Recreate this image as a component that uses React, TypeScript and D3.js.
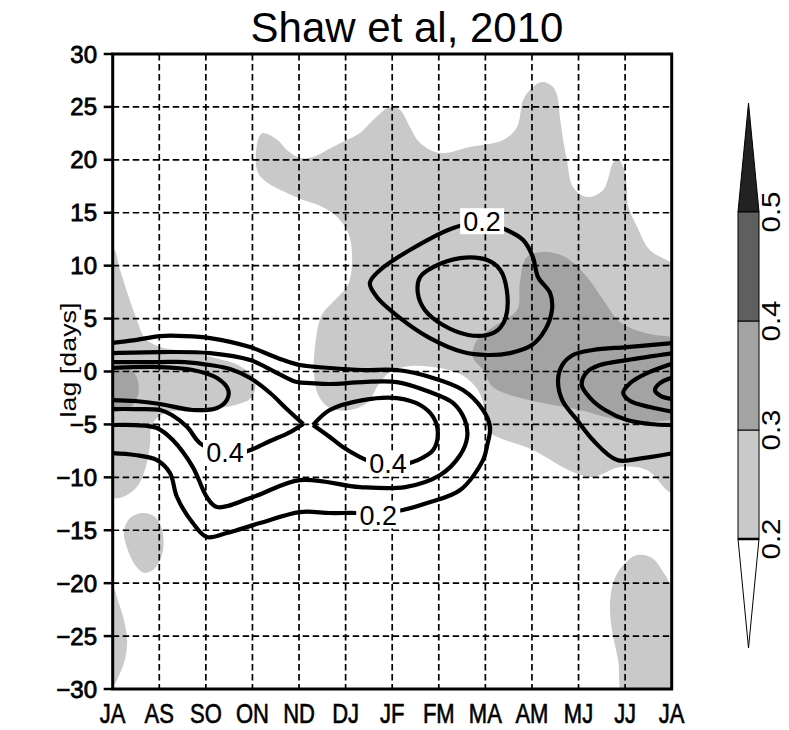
import React from "react";
import * as d3 from "d3";

const W = 789;
const H = 730;

// ---- axis / tick data ----
const monthLabels = ["JA", "AS", "SO", "ON", "ND", "DJ", "JF", "FM", "MA", "AM", "MJ", "JJ", "JA"];
const lagTicks = [30, 25, 20, 15, 10, 5, 0, -5, -10, -15, -20, -25, -30];
const titleText = "Shaw et al, 2010";
const yAxisTitle = "lag [days]";

// ---- colour bar ----
const cbLevels = [0.2, 0.3, 0.4, 0.5];
const cbLabels = ["0.2", "0.3", "0.4", "0.5"];
const cbColors = ["#c9c9c9", "#a3a3a3", "#5f5f5f"];
const cbTopColor = "#222222";

// ---- shaded regions, [month index, lag days] ----
const shadeLightMain: number[][] = [
  [3.2, 22.5], [3.53, 21.9], [3.74, 20.93], [4.02, 20.17], [4.3, 20.27], [4.6, 20.93], [4.94, 21.68],
  [5.31, 22.53], [5.59, 23.76], [5.95, 24.99], [6.17, 24.71], [6.38, 23.1], [6.6, 21.59], [7.03, 20.64],
  [7.67, 21.21], [8.38, 21.87], [8.68, 23.1], [8.81, 25.65], [9.02, 26.88], [9.22, 27.35], [9.43, 26.97],
  [9.54, 26.12], [9.6, 24.04], [9.67, 21.87], [9.75, 19.98], [9.88, 17.43], [10.18, 16.49], [10.53, 17.15],
  [10.74, 19.7], [10.85, 20.08], [10.96, 19.32], [11.04, 17.43], [11.06, 15.73], [11.26, 13.65],
  [11.53, 11.48], [12.0, 10.25], [12.3, 9.0], [12.3, -11.0], [12.0, -11.48], [11.47, -9.31], [10.89, -9.03],
  [10.31, -9.97], [9.88, -9.5], [9.02, -7.42], [8.04, -5.53], [7.99, -3.64], [7.84, -1.75], [7.5, -0.33],
  [7.03, 0.33], [6.38, 0.52], [5.95, -0.05], [5.7, -1.28], [5.48, -2.88], [5.09, -3.64], [4.66, -3.45],
  [4.41, -2.22], [4.32, 0.14], [4.36, 2.97], [4.49, 5.34], [4.77, 6.75], [5.05, 8.17], [5.14, 10.53],
  [5.05, 13.18], [4.77, 14.78], [4.41, 15.73], [4.09, 16.2], [3.7, 16.96], [3.33, 17.81], [3.12, 18.75],
  [3.08, 20.93],
];
const shadeLightLeft: number[][] = [
  [0.0, 11.67], [0.16, 9.59], [0.33, 7.23], [0.52, 4.86], [0.69, 3.16], [1.02, 2.31], [1.66, 1.84],
  [2.2, 1.27], [2.73, 0.52], [3.05, -0.81], [2.99, -2.41], [2.63, -3.17], [1.87, -3.64], [1.12, -3.92],
  [0.84, -5.06], [0.8, -6.95], [0.71, -9.03], [0.52, -10.92], [0.22, -11.86], [0.0, -11.96],
  [-0.3, -11.5], [-0.3, 11.0],
];
const shadeLightBlobSouth: number[][] = [
  [0.65, -13.37], [0.91, -13.75], [1.06, -14.98], [1.08, -16.87], [0.91, -18.57], [0.69, -19.04],
  [0.48, -18.29], [0.31, -16.68], [0.24, -15.17], [0.37, -13.85],
];
const shadeLightCornerLeft: number[][] = [
  [0.0, -20.4], [0.11, -21.59], [0.24, -23.48], [0.31, -25.37], [0.26, -27.26], [0.14, -28.68],
  [0.0, -29.7], [-0.3, -29.5], [-0.3, -20.6],
];
const shadeLightCornerRight: number[][] = [
  [11.26, -17.34], [11.58, -17.63], [11.86, -19.23], [12.0, -20.2], [12.3, -21.0], [12.3, -31.0],
  [11.0, -31.0], [10.85, -27.26], [10.7, -23.96], [10.68, -21.59], [10.78, -19.52], [11.0, -18.1],
];
const shadeMediumRight: number[][] = [
  [8.89, 10.82], [9.32, 11.29], [9.75, 10.72], [10.18, 8.93], [10.53, 6.75], [10.89, 4.67], [11.43, 3.63],
  [12.0, 3.26], [12.3, 3.0], [12.3, -4.4], [12.0, -4.59], [11.32, -4.78], [10.68, -4.4], [10.03, -3.64],
  [9.24, -2.98], [8.68, -2.41], [8.16, -1.47], [7.95, 0.14], [7.73, 1.37], [7.82, 2.97], [8.16, 4.2],
  [8.68, 5.81], [8.74, 8.36],
];
const shadeMediumLeft: number[][] = [
  [0.0, 0.45], [0.26, 0.42], [0.48, -0.24], [0.56, -1.75], [0.44, -3.17], [0.16, -3.74], [0.0, -3.8],
  [-0.3, -3.6], [-0.3, 0.3],
];

// ---- contour lines ----
const contour02Left: number[][] = [
  [-0.05, 2.69], [0.48, 2.97], [1.02, 3.35], [1.55, 3.35], [2.09, 3.16], [2.95, 2.31], [3.38, 1.56],
  [3.66, 1.08], [4.02, 0.61], [4.66, 0.33], [5.37, 0.14], [6.1, 0.14], [6.81, -0.52], [7.52, -1.75],
  [7.95, -3.64], [8.1, -5.25], [8.04, -6.95], [7.95, -8.37], [7.46, -11.2], [6.75, -12.43], [6.23, -13.09],
  [5.7, -13.47], [5.24, -13.37], [4.66, -13.37], [4.02, -13.28], [3.16, -14.32], [2.45, -15.26],
  [2.02, -15.64], [1.72, -14.32], [1.38, -11.86], [1.23, -9.59], [0.95, -8.37], [0.48, -7.89], [-0.05, -7.7],
];
const contour02Right: number[][] = [
  [12.05, 2.69], [11.04, 2.31], [10.31, 2.03], [9.88, 1.56], [9.65, 0.61], [9.56, -0.81], [9.65, -2.7],
  [9.97, -4.59], [10.31, -6.48], [10.83, -8.37], [11.38, -8.18], [12.05, -7.7],
];
const contour03Left: number[][] = [
  [-0.05, 1.74], [1.02, 1.84], [2.09, 1.74], [2.95, 1.08], [3.53, -0.15], [3.96, -1.0], [4.24, -1.09],
  [4.66, -1.18], [5.37, -1.0], [6.1, -1.0], [6.81, -1.94], [7.31, -2.98], [7.56, -4.59], [7.61, -6.19],
  [7.46, -7.89], [7.03, -9.78], [6.28, -10.92], [5.31, -10.92], [4.02, -10.26], [3.01, -11.86],
  [2.24, -12.81], [2.02, -11.86], [1.72, -9.03], [1.29, -6.48], [0.95, -5.34], [0.48, -5.06], [-0.05, -5.06],
];
const contour03Right: number[][] = [
  [12.05, 1.74], [11.04, 1.08], [10.46, 0.61], [10.18, -0.05], [10.07, -1.28], [10.25, -2.51],
  [10.57, -3.64], [11.04, -4.59], [11.53, -4.96], [12.05, -5.06],
];
const contour04LeftUpper: number[][] = [
  [-0.05, 0.89], [0.48, 0.89], [1.02, 0.89], [1.55, 0.89], [2.09, 0.61], [2.52, 0.23], [2.95, -0.62],
  [3.38, -2.03], [3.76, -3.64], [4.09, -4.96],
];
const contour04LeftLower: number[][] = [
  [4.09, -4.96], [3.81, -5.72], [3.38, -6.57], [3.01, -7.33], [2.73, -7.7], [2.2, -7.42], [1.87, -6.76],
  [1.6, -5.25], [1.27, -4.11], [1.02, -3.64], [0.48, -3.55], [-0.05, -3.55],
];
const contour04RightUpper: number[][] = [
  [4.3, -5.06], [4.66, -3.64], [5.37, -2.7], [6.1, -2.51], [6.6, -3.17], [6.88, -4.3], [6.98, -5.81],
  [6.88, -7.42], [6.55, -8.37], [6.17, -8.84], [5.91, -8.84],
];
const contour04RightLower: number[][] = [
  [4.3, -5.06], [4.66, -6.19], [4.94, -7.14], [5.31, -8.08], [5.63, -8.65], [5.91, -8.84],
];
const contour04Edge: number[][] = [
  [12.05, 0.8], [11.47, -0.15], [11.11, -1.09], [10.96, -2.03], [11.11, -2.79], [11.53, -3.36], [12.05, -3.83],
];
const contour05Left: number[][] = [
  [-0.05, 0.33], [1.02, 0.42], [1.72, 0.14], [2.24, -0.62], [2.48, -1.75], [2.45, -2.7], [2.24, -3.45],
  [1.72, -3.64], [1.02, -3.07], [0.48, -2.79], [-0.05, -2.7],
];
const contour05Edge: number[][] = [
  [12.05, -0.52], [11.75, -1.09], [11.64, -1.75], [11.77, -2.32], [12.05, -2.6],
];
const contour02Loop: number[][] = [
  [7.31, 13.56], [7.93, 14.12], [8.46, 13.37], [8.81, 12.42], [9.02, 10.82], [9.13, 8.93], [9.39, 7.41],
  [9.43, 5.81], [9.28, 3.92], [9.0, 2.5], [8.53, 1.74], [8.04, 1.56], [7.52, 1.84], [6.81, 3.16],
  [6.17, 5.05], [5.67, 7.04], [5.52, 8.36], [5.74, 9.59], [6.38, 11.48],
];
const contour03Loop: number[][] = [
  [6.6, 8.93], [6.88, 9.87], [7.46, 10.72], [8.04, 10.53], [8.32, 9.59], [8.46, 7.7], [8.44, 5.15],
  [8.27, 3.92], [8.04, 3.45], [7.63, 3.45], [7.09, 4.39], [6.7, 5.81], [6.55, 7.41],
];

const contourLabelText = ["0.2", "0.4", "0.4", "0.2"];
const contourLabelMonth = [7.93, 2.41, 5.91, 5.7];
const contourLabelLag = [14.2, -7.7, -8.7, -13.6];

export default function App() {
  const left = 112.7;
  const right = 671.7;
  const top = 54;
  const bottom = 689;
  const x = d3.scaleLinear().domain([0, 12]).range([left, right]);
  const y = d3.scaleLinear().domain([-30, 30]).range([bottom, top]);

  const closed = d3
    .line<number[]>()
    .x((d) => x(d[0]))
    .y((d) => y(d[1]))
    .curve(d3.curveCatmullRomClosed.alpha(0.5));
  const open = d3
    .line<number[]>()
    .x((d) => x(d[0]))
    .y((d) => y(d[1]))
    .curve(d3.curveCatmullRom.alpha(0.5));

  const lightRegions = [shadeLightMain, shadeLightLeft, shadeLightBlobSouth, shadeLightCornerLeft, shadeLightCornerRight];
  const mediumRegions = [shadeMediumRight, shadeMediumLeft];
  const openContours = [
    contour02Left, contour02Right, contour03Left, contour03Right,
    contour04LeftUpper, contour04LeftLower, contour04RightUpper, contour04RightLower, contour04Edge,
    contour05Left, contour05Edge,
  ];
  const closedContours = [contour02Loop, contour03Loop];

  // colour bar scale
  const cb = d3.scaleLinear().domain([0.2, 0.5]).range([539, 212]);
  const cbX0 = 738;
  const cbX1 = 759;
  const cbMid = (cbX0 + cbX1) / 2;

  const font = "'Liberation Sans', Arial, Helvetica, sans-serif";

  return (
    <svg
      width={W}
      height={H}
      viewBox={`0 0 ${W} ${H}`}
      style={{ position: "absolute", left: 0, top: 0, background: "#fff" }}
    >
      <defs>
        <clipPath id="plotClip">
          <rect x={left} y={top} width={right - left} height={bottom - top} />
        </clipPath>
      </defs>
      <rect x={0} y={0} width={W} height={H} fill="#fff" />

      {/* title */}
      <text
        x={407}
        y={42}
        textAnchor="middle"
        fontFamily={font}
        fontSize={42}
        fill="#000"
      >
        {titleText}
      </text>

      <g clipPath="url(#plotClip)">
        {lightRegions.map((r, i) => (
          <path key={"l" + i} d={closed(r) || ""} fill={cbColors[0]} stroke="none" />
        ))}
        {mediumRegions.map((r, i) => (
          <path key={"m" + i} d={closed(r) || ""} fill={cbColors[1]} stroke="none" />
        ))}

        {/* grid */}
        {monthLabels.slice(1, -1).map((_, i) => (
          <line
            key={"gx" + i}
            x1={x(i + 1)}
            x2={x(i + 1)}
            y1={top}
            y2={bottom}
            stroke="#000"
            strokeWidth={1.7}
            strokeDasharray="6.5 3.5"
          />
        ))}
        {lagTicks.slice(1, -1).map((v) => (
          <line
            key={"gy" + v}
            x1={left}
            x2={right}
            y1={y(v)}
            y2={y(v)}
            stroke="#000"
            strokeWidth={1.7}
            strokeDasharray="6.5 3.5"
          />
        ))}

        {/* contour lines */}
        {openContours.map((c, i) => (
          <path key={"oc" + i} d={open(c) || ""} fill="none" stroke="#000" strokeWidth={4.2} strokeLinejoin="round" />
        ))}
        {closedContours.map((c, i) => (
          <path key={"cc" + i} d={closed(c) || ""} fill="none" stroke="#000" strokeWidth={4.2} />
        ))}

        {/* contour labels */}
        {contourLabelText.map((t, i) => (
          <g key={"cl" + i} transform={`translate(${x(contourLabelMonth[i])},${y(contourLabelLag[i])})`}>
            <rect x={-22} y={-13} width={44} height={26} fill="#fff" />
            <text
              x={0}
              y={9.5}
              textAnchor="middle"
              fontFamily={font}
              fontSize={27}
              fill="#000"
            >
              {t}
            </text>
          </g>
        ))}
      </g>

      {/* frame */}
      <rect x={left} y={top} width={right - left} height={bottom - top} fill="none" stroke="#000" strokeWidth={3} />

      {/* y ticks and labels */}
      {lagTicks.map((v) => (
        <g key={"yt" + v}>
          <line x1={left - 9} x2={left} y1={y(v)} y2={y(v)} stroke="#000" strokeWidth={2.5} />
          <text
            x={97}
            y={y(v) + 8.5}
            textAnchor="end"
            fontFamily={font}
            fontSize={24}
            fill="#000"
            stroke="#000"
            strokeWidth={0.8}
          >
            {v < 0 ? "\u2212" + Math.abs(v) : String(v)}
          </text>
        </g>
      ))}

      {/* x labels */}
      {monthLabels.map((m, i) => (
        <text
          key={"xl" + i}
          transform={`translate(${x(i)},723) scale(1,1.25)`}
          textAnchor="middle"
          fontFamily={font}
          fontSize={22}
          fill="#000"
          stroke="#000"
          strokeWidth={0.5}
        >
          {m}
        </text>
      ))}

      {/* y axis title */}
      <text
        transform="translate(76,360) rotate(-90)"
        textAnchor="middle"
        fontFamily={font}
        fontSize={22}
        textLength={115}
        lengthAdjust="spacingAndGlyphs"
        fill="#000"
      >
        {yAxisTitle}
      </text>

      {/* colour bar */}
      <g>
        <path
          d={`M${cbX0},${cb(0.5)} L${cbMid},${cb(0.6)} L${cbX1},${cb(0.5)} Z`}
          fill={cbTopColor}
          stroke="#000"
          strokeWidth={1}
        />
        {cbColors.map((c, i) => (
          <rect
            key={"cb" + i}
            x={cbX0}
            y={cb(cbLevels[i + 1])}
            width={cbX1 - cbX0}
            height={cb(cbLevels[i]) - cb(cbLevels[i + 1])}
            fill={c}
            stroke="#000"
            strokeWidth={1}
          />
        ))}
        <path
          d={`M${cbX0},${cb(0.2)} L${cbMid},${cb(0.1)} L${cbX1},${cb(0.2)} Z`}
          fill="#fff"
          stroke="#000"
          strokeWidth={1}
        />
        <line x1={cbX0} x2={cbX1} y1={cb(0.2)} y2={cb(0.2)} stroke="#000" strokeWidth={2.5} />
        {cbLevels.map((v, i) => (
          <text
            key={"cbl" + i}
            transform={`translate(780,${cb(v)}) rotate(-90)`}
            textAnchor="middle"
            fontFamily={font}
            fontSize={25}
            textLength={41}
            lengthAdjust="spacingAndGlyphs"
            fill="#000"
          >
            {cbLabels[i]}
          </text>
        ))}
      </g>
    </svg>
  );
}
